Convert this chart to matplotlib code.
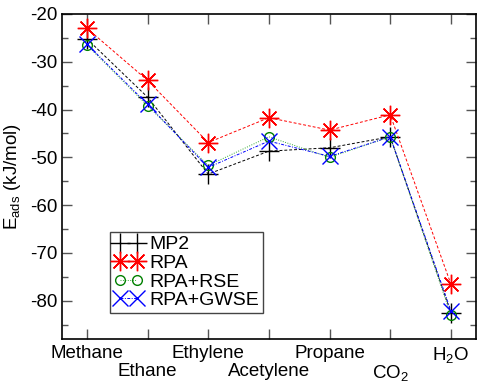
import matplotlib
matplotlib.use('Agg')
import matplotlib.pyplot as plt
import numpy as np

plt.rcParams['font.family'] = ['Liberation Sans', 'DejaVu Sans']
plt.rcParams['mathtext.fontset'] = 'custom'
plt.rcParams['mathtext.rm'] = 'Liberation Sans'
plt.rcParams['mathtext.it'] = 'Liberation Sans'
plt.rcParams['axes.unicode_minus'] = False

# 分子名称
molecules = ['Methane', 'Ethane', 'Ethylene', 'Acetylene', 'Propane', 'CO$_2$', 'H$_2$O']

# 吸附能 (kJ/mol)
mp2 = [-25.2, -37.4, -53.5, -48.7, -48.0, -45.7, -82.5]
rpa = [-23.0, -33.9, -46.9, -41.7, -44.3, -41.1, -76.5]
rpa_rse = [-26.5, -39.2, -51.7, -45.7, -50.0, -45.7, -83.0]
rpa_gwse = [-26.3, -38.9, -52.1, -46.6, -49.8, -45.7, -82.1]

x = np.arange(1, len(molecules) + 1)

fig = plt.figure(figsize=(4.92, 3.87), dpi=100)
ax = fig.add_axes([0.126, 0.124, 0.841, 0.840])

ax.plot(x, mp2, color='black', ls=(0, (3, 2)), lw=0.7, marker='+', ms=14, mew=1.0, label='MP2')
ax.plot(x, rpa, color='red', ls=(0, (3, 2)), lw=0.7, marker=(8, 2, 0), ms=14, mew=1.0, label='RPA')
ax.plot(x, rpa_rse, color='#33aa33', ls=(0, (1, 1.5)), lw=0.7, marker='o', ms=7,
        mfc='none', mec='green', mew=1.0, label='RPA+RSE')
ax.plot(x, rpa_gwse, color='blue', ls=(0, (3, 1.5, 1, 1.5)), lw=0.7, marker='x', ms=11, mew=1.0,
        label='RPA+GWSE')

ax.set_xlim(0.59, 7.41)
ax.set_ylim(-88, -20)
ax.set_xticks(x)
ax.set_xticklabels(molecules, fontsize=13.5)
ax.set_yticks(np.arange(-80, -19, 10))
ax.set_yticks(np.arange(-85, -19, 5), minor=True)
ax.tick_params(axis='y', labelsize=13.5)
ax.tick_params(which='both', direction='in', top=True, right=True, color='#555555')
ax.tick_params(which='major', length=7, width=1)
ax.tick_params(which='minor', length=4, width=1)
ax.tick_params(axis='x', which='minor', top=False, bottom=False)
for i, t in enumerate(ax.xaxis.get_major_ticks()):
    t.set_pad(4 if i % 2 == 0 else 17)

for s in ax.spines.values():
    s.set_linewidth(1.2)

ax.set_ylabel('E$_{\\mathrm{ads}}$ (kJ/mol)', fontsize=13.5, labelpad=5)

leg = ax.legend(loc='lower left', bbox_to_anchor=(0.116, 0.080), numpoints=2, fontsize=14,
                fancybox=False, framealpha=1, edgecolor='#444444', borderpad=0.2,
                labelspacing=0.05, handlelength=1.5, handletextpad=0.35, borderaxespad=0)
leg.get_frame().set_linewidth(1.0)

fig.savefig('out.png', dpi=100)
